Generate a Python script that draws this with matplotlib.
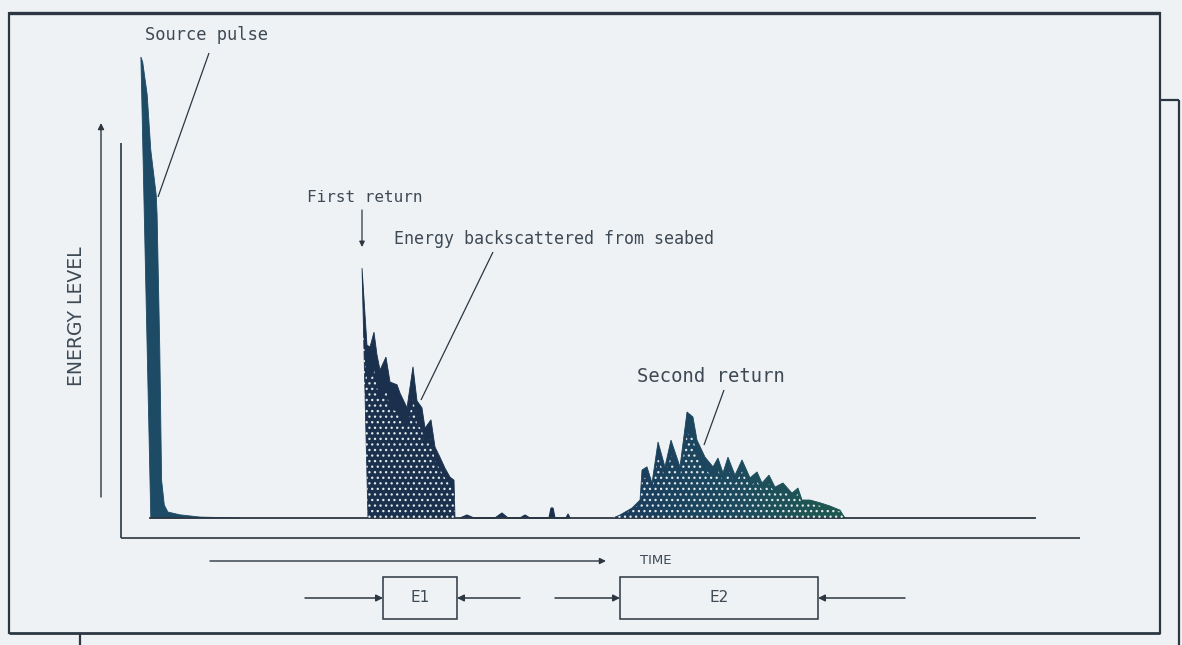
import matplotlib
matplotlib.use("Agg")
import matplotlib.pyplot as plt
from matplotlib.colors import LinearSegmentedColormap
import numpy as np

# ---- signal data: time (arbitrary units) and energy level (% of source peak) ----
pulse_t = [1.2, 0.1, 0.3, 0.8, 1.2, 1.8, 1.9, 2.2, 2.4, 2.7, 3.1, 4.4, 6.7, 11.1]
pulse_e = [0, 100, 98.9, 91.8, 79.8, 70.1, 65.7, 36.4, 8.2, 2.8, 1.3, 0.7, 0.2, 0]

first_t = [25.33, 24.67, 25.22, 25.56, 26.0, 26.33, 26.67, 27.33, 27.78, 28.56,
           28.89, 29.67, 30.33, 30.78, 31.33, 31.67, 32.33, 32.78, 33.33, 33.89,
           34.44, 34.89, 35.0]
first_e = [0, 54.2, 37.5, 37.1, 40.3, 35.4, 32.1, 34.9, 29.5, 28.9,
           27.1, 23.9, 32.8, 25.4, 23.9, 19.5, 21.3, 15.4, 13.2, 10.8,
           8.9, 8.2, 0]

clutter_t = [35.56, 36.33, 37.11, 39.44, 40.22, 40.89, 42.22, 42.78, 43.33,
             45.44, 45.67, 45.89, 46.11, 47.33, 47.56, 47.78]
clutter_e = [0, 0.65, 0, 0, 1.08, 0, 0, 0.65, 0,
             0, 2.17, 2.17, 0, 0, 0.87, 0]

second_t = [52.56, 53.33, 54.67, 55.56, 55.78, 56.33, 56.89, 57.56, 58.33, 59.0,
            60.0, 60.78, 61.44, 61.89, 62.78, 63.67, 64.22, 64.78, 65.33, 66.11,
            66.89, 67.78, 68.56, 69.11, 69.89, 70.56, 71.44, 72.44, 73.11, 73.56,
            74.44, 75.56, 76.67, 77.78, 78.33]
second_e = [0, 0.65, 2.17, 3.9, 10.4, 11.1, 7.6, 16.5, 11.1, 16.9,
            11.1, 23.0, 21.9, 16.9, 13.2, 11.1, 13.0, 9.8, 13.2, 9.3,
            12.6, 8.7, 10.0, 7.6, 9.3, 6.7, 7.6, 5.4, 6.5, 3.9,
            3.9, 3.3, 2.6, 1.7, 0]

baseline_t = [1.1, 99.4]

# ---- styling ----
BG = "#eef2f5"
INK = "#2c3742"
TXT = "#3e4954"
PULSE_C = "#1d4a64"
FIRST_C = "#1a304c"
SECOND_CMAP = LinearSegmentedColormap.from_list(
    "second", ["#1b3b5c", "#1d4a5f", "#1f5a4f"])
FONT = "DejaVu Sans Mono"
SPECK = "#e3eaee"

plt.rcParams["hatch.linewidth"] = 0.9

W, H = 1182, 645
fig = plt.figure(figsize=(W / 100, H / 100), dpi=100, facecolor=BG)

# Drawing-board axes in pixel units for the frame, axes arrows and labels
deco = fig.add_axes([0, 0, 1, 1])
deco.set_xlim(0, W)
deco.set_ylim(H, 0)
deco.axis("off")
deco.patch.set_alpha(0)


def seg(x0, y0, x1, y1, lw=1.2, color=INK):
    deco.plot([x0, x1], [y0, y1], color=color, lw=lw, solid_capstyle="butt")


def arrow(x0, y0, x1, y1, lw=1.1, ms=10):
    deco.annotate("", xy=(x1, y1), xytext=(x0, y0),
                  arrowprops=dict(arrowstyle="-|>", color=INK, lw=lw,
                                  mutation_scale=ms, shrinkA=0, shrinkB=0))


# outer frame and page edges
seg(9, 13, 1160, 13, lw=2.4)
seg(9, 633, 1160, 633, lw=2.0)
seg(9, 12, 9, 634, lw=1.6)
seg(1160, 12, 1160, 634, lw=1.6)
seg(1160, 100, 1179, 100, lw=1.6)
seg(1179, 100, 1179, 645, lw=1.6)
seg(80, 633, 80, 645, lw=1.6)

# energy axis arrow and plot axes
arrow(101, 497, 101, 123, lw=1.0, ms=9)
seg(121, 143, 121, 538, lw=1.2)
seg(121, 538, 1080, 538, lw=1.2)

# time arrow
arrow(210, 561, 606, 561, lw=1.0, ms=9)
deco.text(656, 561, "TIME", ha="center", va="center", fontsize=9.5,
          color=TXT, family="DejaVu Sans")

# E1 / E2 integration windows
deco.add_patch(plt.Rectangle((383, 577), 74, 42, fill=False, ec=INK, lw=1.1))
deco.add_patch(plt.Rectangle((620, 577), 198, 42, fill=False, ec=INK, lw=1.1))
deco.text(420, 598, "E1", ha="center", va="center", fontsize=11, color=TXT,
          family="DejaVu Sans")
deco.text(719, 598, "E2", ha="center", va="center", fontsize=11, color=TXT,
          family="DejaVu Sans")
arrow(305, 598, 383, 598)
arrow(520, 598, 457, 598)
arrow(555, 598, 620, 598)
arrow(905, 598, 818, 598)

# y-axis title
deco.text(76, 316, "ENERGY LEVEL", rotation=90, ha="center", va="center",
          fontsize=13.5, color=TXT, family="DejaVu Sans")

# callouts
deco.text(145, 35, "Source pulse", ha="left", va="center", fontsize=12.3,
          color=TXT, family=FONT)
seg(209, 53, 158, 197, lw=0.9)

deco.text(307, 197, "First return", ha="left", va="center", fontsize=11.5,
          color=TXT, family=FONT)
arrow(362, 210, 362, 247, lw=0.9, ms=8)

deco.text(394, 239, "Energy backscattered from seabed", ha="left",
          va="center", fontsize=12, color=TXT, family=FONT)
seg(493, 252, 421, 400, lw=0.9)

deco.text(637, 377, "Second return", ha="left", va="center", fontsize=13.6,
          color=TXT, family=FONT)
seg(724, 390, 704, 445, lw=0.9)

# Signal axes: time 0..100 spans px 140..1040, energy 0..100 spans px 518..57
sig = fig.add_axes([140 / W, (H - 518) / H, 900 / W, 461 / H])
sig.set_xlim(0, 100)
sig.set_ylim(0, 100)
sig.axis("off")
sig.patch.set_alpha(0)

sig.plot(baseline_t, [0, 0], color=INK, lw=1.3, clip_on=False)

sig.fill(pulse_t, pulse_e, facecolor=PULSE_C, edgecolor=PULSE_C, lw=0.6,
         clip_on=False)
sig.fill(first_t, first_e, facecolor=FIRST_C, edgecolor=FIRST_C, lw=0.6,
         clip_on=False)
sig.fill(clutter_t, clutter_e, facecolor=FIRST_C, edgecolor=FIRST_C, lw=0.8,
         clip_on=False)

# second return: blue-to-teal shading clipped to its envelope
sec_poly, = sig.fill(second_t, second_e, facecolor="none",
                     edgecolor="#1d4a5c", lw=0.6, clip_on=False)
grad = np.linspace(0, 1, 256)[None, :]
img = sig.imshow(grad, cmap=SECOND_CMAP, aspect="auto",
                 extent=[min(second_t), max(second_t), 0, max(second_e)],
                 origin="lower", zorder=1)
img.set_clip_path(sec_poly)
sig.set_xlim(0, 100)
sig.set_ylim(0, 100)

# white stipple inside the returns, kept away from the spike tips
for tt, ee in ((first_t, first_e), (second_t, second_e)):
    tt = np.asarray(tt)
    inner = np.asarray(ee) * 0.8
    sig.fill(tt, inner, facecolor="none", edgecolor=SPECK, hatch="...",
             lw=0, clip_on=False, zorder=3)

fig.savefig("out.png", dpi=100, facecolor=BG)
